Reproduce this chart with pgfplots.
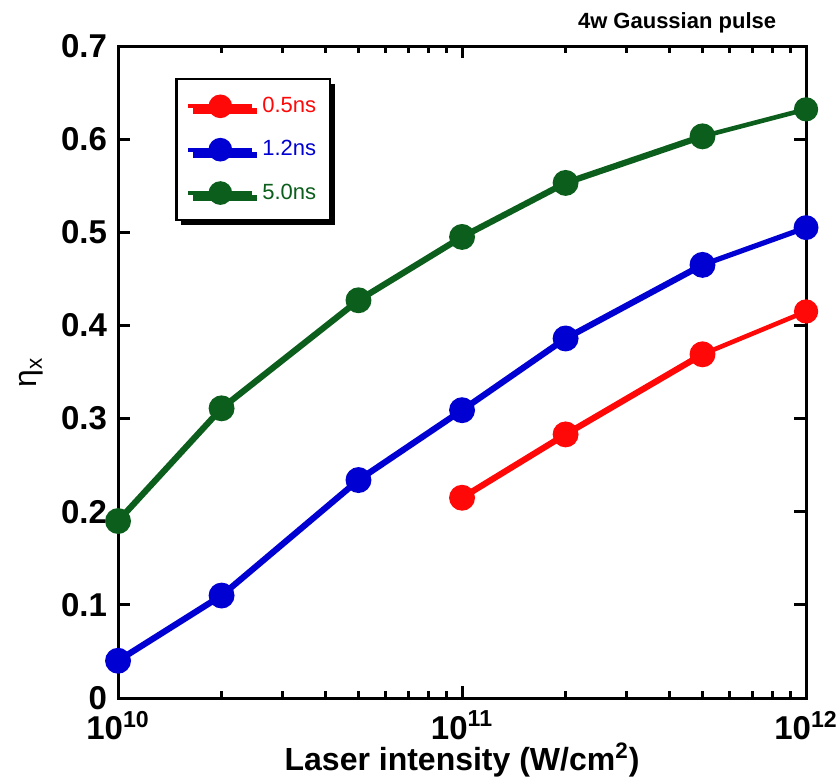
\documentclass[border=0pt]{standalone}
\usepackage{fontspec}
\setmainfont{Liberation Sans}
\usepackage{pgfplots}
\pgfplotsset{compat=1.18}
\usetikzlibrary{shadows}
\definecolor{cred}{RGB}{255,8,8}
\definecolor{cblue}{RGB}{0,0,210}
\definecolor{cgreen}{RGB}{12,94,28}
\begin{document}
\begin{tikzpicture}
\begin{axis}[
  name=ax,
  scale only axis,
  width=344pt, height=326pt,
  xmode=log,
  xmin=1e10, xmax=1e12,
  ymin=0, ymax=0.7,
  clip=false,
  axis line style={line width=1.5pt},
  every tick/.style={black, line width=1.5pt},
  major tick length=6pt,
  minor tick length=3.5pt,
  tick align=inside,
  xtick={1e10,1e11,1e12},
  xticklabels={10\textsuperscript{10},10\textsuperscript{11},10\textsuperscript{12}},
  ytick={0,0.1,0.2,0.3,0.4,0.5,0.6,0.7},
  yticklabels={0,0.1,0.2,0.3,0.4,0.5,0.6,0.7},
  tick label style={font=\fontsize{16.5}{19}\selectfont\bfseries},
  yticklabel style={xshift=-2pt},
  xticklabel style={yshift=-3pt},
  xlabel={Laser intensity (W/cm\textsuperscript{2})},
  xlabel style={font=\fontsize{16}{19}\selectfont\bfseries, yshift=5.5pt},
  ylabel={η\textsubscript{x}},
  ylabel style={font=\fontsize{16}{19}\selectfont, yshift=2pt},
  legend style={at={(0.083,0.951)}, anchor=north west, draw=black, line width=1.2pt,
    fill=white, drop shadow={shadow xshift=2.5pt, shadow yshift=-2.5pt, fill=black, opacity=1},
    font=\fontsize{11}{13}\selectfont, row sep=8.5pt, inner xsep=5pt, inner ysep=7pt,
    legend cell align=left},
  legend image code/.code={\draw[mark repeat=2,mark phase=2,#1, line width=2pt] plot coordinates {(0pt,0pt) (16pt,0pt) (32pt,0pt)};},
  every axis plot/.append style={line width=3.1pt, mark=*, mark size=4.9pt, mark options={solid}},
]
\addplot[color=cred] coordinates {(1e11,0.215) (2e11,0.283) (5e11,0.369)};
\addlegendentry{\hspace{2pt}\textcolor{cred}{0.5ns}\hspace{4pt}}
\addplot[color=cblue] coordinates {(1e10,0.040) (2e10,0.110) (5e10,0.234) (1e11,0.309) (2e11,0.386) (5e11,0.465)};
\addlegendentry{\hspace{2pt}\textcolor{cblue}{1.2ns}\hspace{4pt}}
\addplot[color=cgreen] coordinates {(1e10,0.190) (2e10,0.311) (5e10,0.427) (1e11,0.495) (2e11,0.553) (5e11,0.603)};
\addlegendentry{\hspace{2pt}\textcolor{cgreen}{5.0ns}\hspace{4pt}}
\addplot[color=cred, line width=2.3pt, forget plot] coordinates {(5e11,0.369) (1e12,0.415)};
\addplot[color=cblue, line width=2.6pt, forget plot] coordinates {(5e11,0.465) (1e12,0.505)};
\addplot[color=cgreen, line width=2.3pt, forget plot] coordinates {(5e11,0.603) (1e12,0.632)};
\node[font=\fontsize{11}{13}\selectfont\bfseries, anchor=base] at (axis description cs:0.8125,1) [yshift=9pt] {4w Gaussian pulse};
\end{axis}
\pgfresetboundingbox
\path (ax.south west) ++(-59pt,-42.5pt) rectangle ++(420pt,391.5pt);
\end{tikzpicture}
\end{document}
